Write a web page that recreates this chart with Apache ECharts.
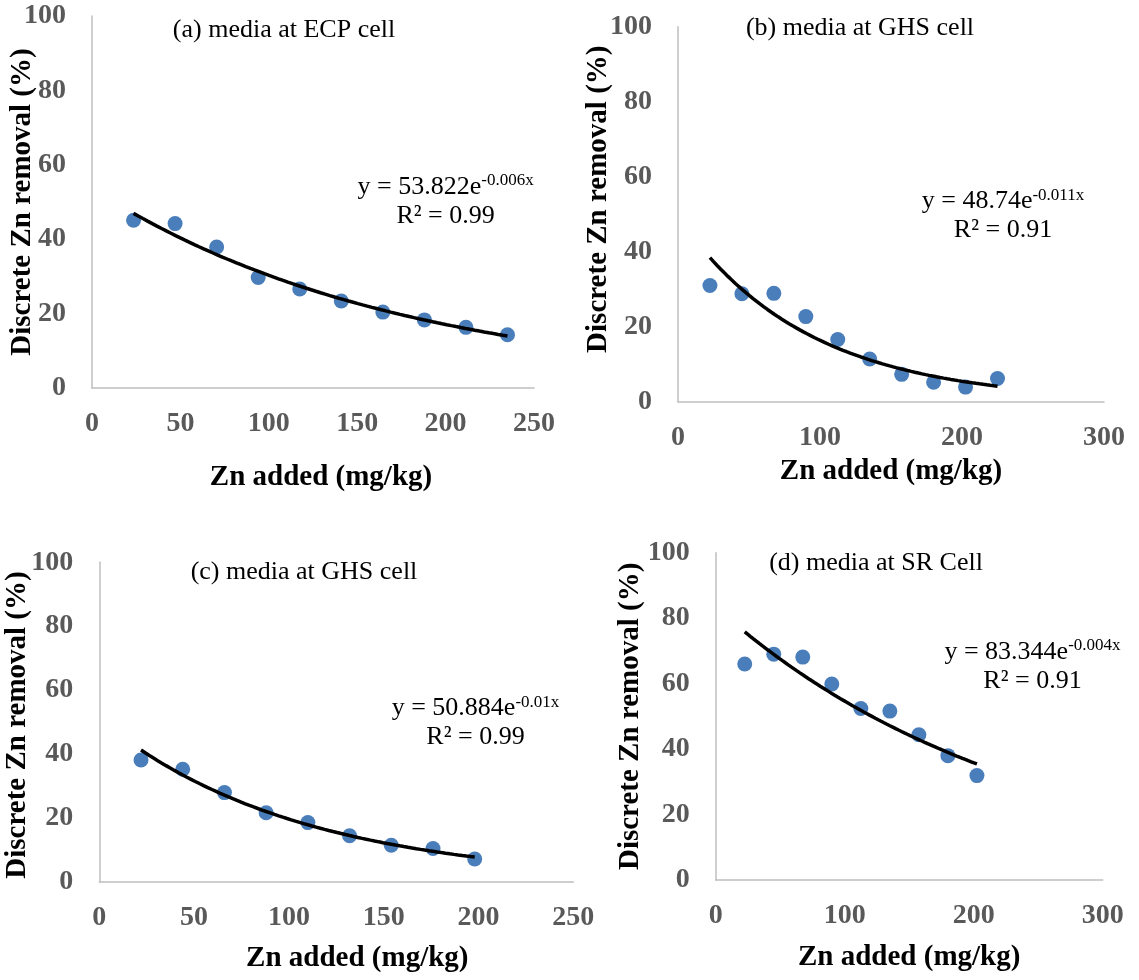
<!DOCTYPE html>
<html><head><meta charset="utf-8">
<script src="https://cdn.jsdelivr.net/npm/echarts@6/dist/echarts.min.js"></script>
<style>html,body{margin:0;padding:0;background:#fff}#c{width:1139px;height:980px}</style>
</head><body><div id="c"></div>
<script>
// ---- data ----
const panelTitles = ['(a) media at ECP cell', '(b) media at GHS cell', '(c) media at GHS cell', '(d) media at SR Cell'];
const eqCoef = ['53.822', '48.74', '50.884', '83.344'];
const eqExp = ['-0.006x', '-0.011x', '-0.01x', '-0.004x'];
const eqR2 = ['0.99', '0.91', '0.99', '0.91'];
const xAxisTitle = 'Zn added (mg/kg)';
const yAxisTitle = 'Discrete Zn removal (%)';
const xMax = [250, 300, 250, 300];
const xStep = [50, 100, 50, 100];
const yMax = 100, yStep = 20;

const xA = [23.5, 47, 70.5, 94, 117.5, 141, 164.5, 188, 211.5, 235];
const yA = [45.1, 44.2, 37.9, 29.7, 26.6, 23.4, 20.4, 18.3, 16.3, 14.3];
const xB = [22.5, 45, 67.5, 90, 112.5, 135, 157.5, 180, 202.5, 225];
const yB = [31.0, 28.8, 28.9, 22.7, 16.6, 11.4, 7.3, 5.2, 3.9, 6.2];
const xC = [22, 44, 66, 88, 110, 132, 154, 176, 198];
const yC = [38.1, 35.2, 27.9, 21.6, 18.5, 14.4, 11.4, 10.4, 7.1];
const xD = [22.5, 45, 67.5, 90, 112.5, 135, 157.5, 180, 202.5];
const yD = [66.0, 69.0, 68.1, 59.9, 52.4, 51.6, 44.4, 38.0, 31.9];

const panelsX = [xA, xB, xC, xD];
const panelsY = [yA, yB, yC, yD];

// ---- layout / style ----
const grids = [
  {left: 92, top: 16, width: 442, height: 372},
  {left: 678, top: 26.7, width: 426, height: 375},
  {left: 99.3, top: 562.3, width: 474, height: 319.4},
  {left: 715.7, top: 552.7, width: 387, height: 327.3}
];
const xNameGap = [75, 55, 62, 63.5];
const xNamePad = [16, 0, 42, 0];
const yNameGap = [55, 65, 67.4, 70.4];
const yNamePad = [[0,0,0,0],[0,0,0,30],[0,6,0,0],[0,0,0,0]];
const titlePos = [[284, 30], [860, 28.3], [304, 571.7], [876, 563.3]];
const eqPos = [[445.6, 201.4], [1003, 215.8], [475.5, 722.8], [1032.5, 666.2]];

const FONT = "'Liberation Serif','Times New Roman',serif";
const AXIS_COLOR = '#bfbfbf';
const LABEL_COLOR = '#595959';
const POINT_COLOR = '#4a7ebb';

function expFit(xs, ys) {
  const n = xs.length;
  let sx = 0, sy = 0, sxx = 0, sxy = 0;
  for (let i = 0; i < n; i++) {
    const l = Math.log(ys[i]);
    sx += xs[i]; sy += l; sxx += xs[i] * xs[i]; sxy += xs[i] * l;
  }
  const b = (n * sxy - sx * sy) / (n * sxx - sx * sx);
  const a = Math.exp((sy - b * sx) / n);
  return {a, b};
}
function trendCurve(xs, ys) {
  const f = expFit(xs, ys);
  const x0 = Math.min(...xs), x1 = Math.max(...xs);
  const out = [];
  const N = 80;
  for (let i = 0; i <= N; i++) {
    const x = x0 + (x1 - x0) * i / N;
    out.push([x, f.a * Math.exp(f.b * x)]);
  }
  return out;
}

const option = {
  backgroundColor: '#ffffff',
  animation: false,
  grid: grids.map(g => Object.assign({containLabel: false, outerBoundsMode: 'none'}, g)),
  xAxis: grids.map((g, i) => ({
    type: 'value', gridIndex: i, min: 0, max: xMax[i], interval: xStep[i],
    name: xAxisTitle, nameLocation: 'middle', nameGap: xNameGap[i], nameMoveOverlap: false,
    nameTextStyle: {fontFamily: FONT, fontWeight: 'bold', fontSize: 29, color: '#000', padding: [0, 0, 0, xNamePad[i]]},
    axisLine: {show: true, onZero: false, lineStyle: {color: AXIS_COLOR, width: 1.5}},
    axisTick: {show: false},
    splitLine: {show: false},
    axisLabel: {fontFamily: FONT, fontWeight: 'bold', fontSize: 28, color: LABEL_COLOR, margin: 22}
  })),
  yAxis: grids.map((g, i) => ({
    type: 'value', gridIndex: i, min: 0, max: yMax, interval: yStep,
    name: yAxisTitle, nameLocation: 'middle', nameGap: yNameGap[i], nameMoveOverlap: false,
    nameTextStyle: {fontFamily: FONT, fontWeight: 'bold', fontSize: 29, color: '#000', padding: yNamePad[i]},
    axisLine: {show: true, onZero: false, lineStyle: {color: AXIS_COLOR, width: 1.5}},
    axisTick: {show: false},
    splitLine: {show: false},
    axisLabel: {fontFamily: FONT, fontWeight: 'bold', fontSize: 28, color: LABEL_COLOR, margin: 26}
  })),
  title: [].concat(
    panelTitles.map((t, i) => ({
      text: t, left: titlePos[i][0], top: titlePos[i][1], padding: 0,
      textAlign: 'center', textVerticalAlign: 'middle',
      textStyle: {fontFamily: FONT, fontWeight: 'normal', fontSize: 26, color: '#000'}
    })),
    eqCoef.map((c, i) => ({
      text: '{n|y = ' + c + 'e}{s|' + eqExp[i] + '}\n{n|R² = ' + eqR2[i] + '}',
      left: eqPos[i][0], top: eqPos[i][1], padding: 0,
      textAlign: 'center', textVerticalAlign: 'middle',
      textStyle: {
        fontFamily: FONT, fontWeight: 'normal', fontSize: 26, color: '#000',
        rich: {
          n: {fontFamily: FONT, fontSize: 26, lineHeight: 29, color: '#000'},
          s: {fontFamily: FONT, fontSize: 17, lineHeight: 17, color: '#000', verticalAlign: 'top'}
        }
      }
    }))
  ),
  series: [].concat(
    panelsX.map((xs, i) => ({
      type: 'scatter', xAxisIndex: i, yAxisIndex: i,
      symbol: 'circle', symbolSize: 15,
      itemStyle: {color: POINT_COLOR, opacity: 1},
      data: xs.map((x, k) => [x, panelsY[i][k]]),
      z: 2
    })),
    panelsX.map((xs, i) => ({
      type: 'line', xAxisIndex: i, yAxisIndex: i,
      showSymbol: false, symbol: 'none', smooth: false,
      lineStyle: {color: '#000', width: 3.5},
      data: trendCurve(xs, panelsY[i]),
      z: 3
    }))
  )
};

const chart = echarts.init(document.getElementById('c'), null, {renderer: 'canvas'});
chart.setOption(option);
</script>
</body></html>
